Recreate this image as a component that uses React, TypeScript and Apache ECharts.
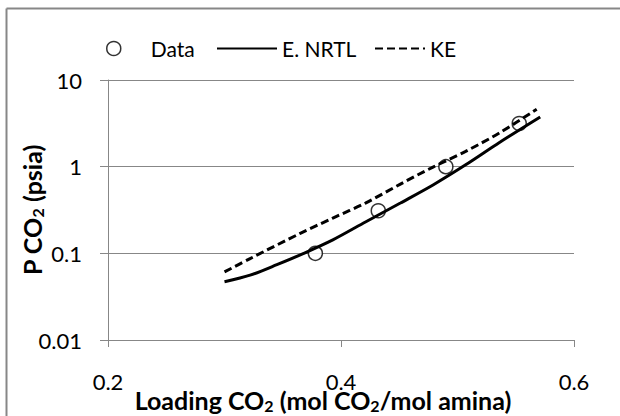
import React, { useEffect, useRef } from "react";
import * as echarts from "echarts";

const dataLoading = [0.378, 0.432, 0.49, 0.553];
const dataPressure = [0.1, 0.31, 1.0, 3.15];

const nrtlLoading = [0.3, 0.322, 0.345, 0.368, 0.393, 0.421, 0.451, 0.479, 0.507, 0.536, 0.571];
const nrtlPressure = [0.047, 0.056, 0.074, 0.1, 0.143, 0.23, 0.381, 0.615, 1.05, 1.9, 3.74];

const keLoading = [0.3, 0.322, 0.365, 0.393, 0.421, 0.451, 0.479, 0.507, 0.536, 0.568];
const kePressure = [0.061, 0.087, 0.17, 0.255, 0.38, 0.63, 0.99, 1.5, 2.45, 4.6];

const seriesNames = ["Data", "E. NRTL", "KE"];

const FONT = "Lato, 'Noto Sans', sans-serif";
const GRAY = "#878787";

export default function App() {
  const ref = useRef<HTMLDivElement>(null);
  useEffect(() => {
    if (!ref.current) return;
    const chart = echarts.init(ref.current, undefined, { renderer: "svg" });
    const zip = (xs: number[], ys: number[]) => xs.map((x, i) => [x, ys[i]]);
    const legendText = { fontSize: 21, color: "#000", fontFamily: FONT };
    const subStyle = {
      fontSize: 16,
      fontWeight: "bold",
      color: "#000",
      fontFamily: FONT,
      verticalAlign: "bottom",
      padding: [10, 0, 0, 0],
    };
    chart.setOption({
      animation: false,
      backgroundColor: "#fff",
      textStyle: { fontFamily: FONT },
      graphic: [
        {
          type: "line",
          shape: { x1: 6.5, y1: 8.5, x2: 640, y2: 8.5 },
          style: { stroke: GRAY, lineWidth: 2 },
          silent: true,
        },
        {
          type: "line",
          shape: { x1: 6.5, y1: 8.5, x2: 6.5, y2: 430 },
          style: { stroke: GRAY, lineWidth: 2 },
          silent: true,
        },
      ],
      legend: [
        {
          left: 101,
          top: 33,
          itemWidth: 14,
          itemHeight: 14,
          textStyle: { ...legendText, padding: [0, 0, 0, 25] },
          data: [
            {
              name: seriesNames[0],
              icon: "circle",
              itemStyle: { color: "#fff", borderColor: "#000", borderWidth: 1.5 },
            },
          ],
        },
        {
          left: 211,
          top: 33,
          itemWidth: 60,
          itemHeight: 14,
          textStyle: legendText,
          data: [{ name: seriesNames[1], itemStyle: { opacity: 0 } }],
        },
        {
          left: 369,
          top: 33,
          itemWidth: 50,
          itemHeight: 14,
          textStyle: legendText,
          data: [{ name: seriesNames[2], itemStyle: { opacity: 0 } }],
        },
      ],
      grid: { left: 108, right: 46, top: 80, bottom: 76, outerBoundsMode: "none" },
      xAxis: {
        type: "value",
        min: 0.2,
        max: 0.6,
        interval: 0.2,
        splitLine: { show: false },
        axisLine: { show: true, lineStyle: { color: GRAY, width: 1 } },
        axisTick: { show: true, length: 7, lineStyle: { color: GRAY } },
        axisLabel: {
          margin: 30,
          fontSize: 22,
          color: "#000",
          fontFamily: FONT,
          formatter: (v: number) => String(+v.toFixed(1)),
        },
        name: "Loading CO{sub|2} (mol CO{sub|2}/mol amina)",
        nameLocation: "middle",
        nameGap: 47,
        nameMoveOverlap: false,
        nameTextStyle: {
          fontSize: 25,
          fontWeight: "bold",
          color: "#000",
          fontFamily: FONT,
          padding: [0, 36, 0, 0],
          rich: { sub: subStyle },
        },
      },
      yAxis: {
        type: "log",
        logBase: 10,
        min: 0.01,
        max: 10,
        splitLine: { show: true, lineStyle: { color: GRAY, width: 1 } },
        axisLine: { show: true, lineStyle: { color: GRAY, width: 1 } },
        axisTick: { show: true, length: 8, lineStyle: { color: GRAY } },
        axisLabel: {
          margin: 26,
          fontSize: 22,
          color: "#000",
          fontFamily: FONT,
          formatter: (v: number) => String(+v.toPrecision(3)),
        },
        name: "P CO{sub|2} (psia)",
        nameLocation: "middle",
        nameGap: 63,
        nameRotate: 90,
        nameMoveOverlap: false,
        nameTextStyle: {
          fontSize: 25,
          fontWeight: "bold",
          color: "#000",
          fontFamily: FONT,
          rich: { sub: subStyle },
        },
      },
      series: [
        {
          name: seriesNames[0],
          type: "scatter",
          data: zip(dataLoading, dataPressure),
          symbol: "circle",
          symbolSize: 14,
          itemStyle: { color: "#fff", borderColor: "#000", borderWidth: 1.5 },
          z: 2,
        },
        {
          name: seriesNames[1],
          type: "line",
          data: zip(nrtlLoading, nrtlPressure),
          smooth: 0.3,
          showSymbol: false,
          symbol: "none",
          lineStyle: { color: "#000", width: 3 },
          itemStyle: { color: "#000" },
          z: 3,
        },
        {
          name: seriesNames[2],
          type: "line",
          data: zip(keLoading, kePressure),
          smooth: 0.3,
          showSymbol: false,
          symbol: "none",
          lineStyle: { color: "#000", width: 3, type: [8, 4] },
          itemStyle: { color: "#000" },
          z: 3,
        },
      ],
    });
    return () => chart.dispose();
  }, []);
  return (
    <div
      ref={ref}
      style={{ position: "fixed", left: 0, top: 0, width: 620, height: 416 }}
    />
  );
}
